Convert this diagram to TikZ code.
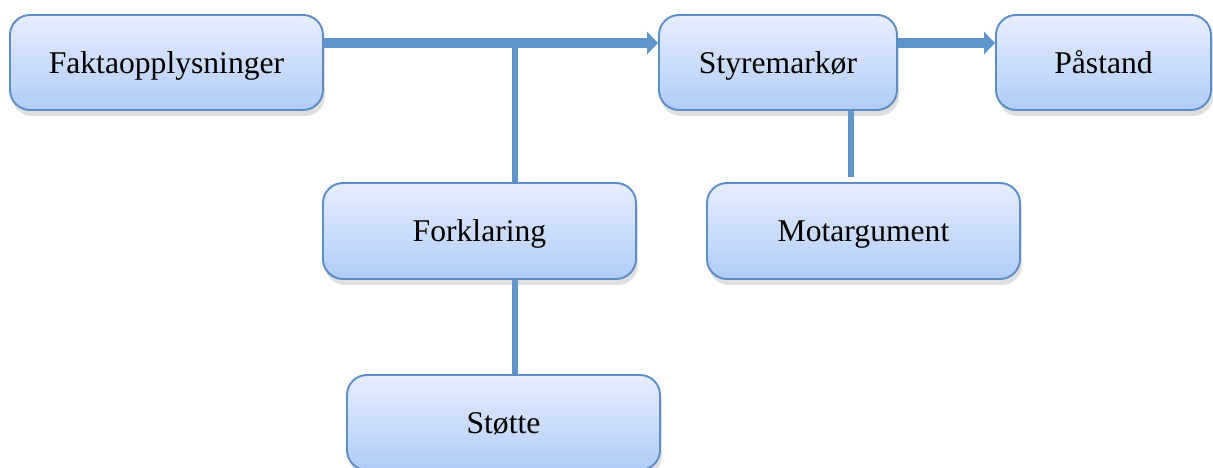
\documentclass[tikz,border=0pt]{standalone}
\usepackage{fontspec}
\setmainfont{Liberation Serif}
\usetikzlibrary{arrows.meta,shadows}
\definecolor{edge}{HTML}{5D8DC4}
\definecolor{wire}{HTML}{5F95CB}
\definecolor{boxtop}{HTML}{E6EEFD}
\definecolor{boxbot}{HTML}{B0CCF8}

\begin{document}
\begin{tikzpicture}[
  line cap=butt,
  blk/.style={draw=edge, line width=1.1pt, rounded corners=0.4cm,
              top color=boxtop, bottom color=boxbot,
              minimum width=6.26cm, minimum height=1.9cm, inner sep=3pt,
              text height=16pt, text depth=4pt,
              font=\fontsize{18}{22}\selectfont,
              drop shadow={shadow xshift=0.4mm, shadow yshift=-1.2mm, opacity=0.25}},
  fl/.style={-{Triangle[length=0.22cm, width=0.44cm]}, wire, line width=0.2cm},
  ln/.style={wire, line width=0.13cm}]

\useasboundingbox (0,0) rectangle (24.26,9.36);

\node[blk] (fakta) at (3.33,8.11) {Faktaopplysninger};
\node[blk, minimum width=4.76cm] (styre) at (15.56,8.11) {Styremarkør};
\node[blk, minimum width=4.3cm] (paast) at (22.07,8.11) {Påstand};
\node[blk, minimum height=1.92cm] (forkl) at (9.59,4.74) {Forklaring};
\node[blk, minimum height=1.92cm] (motarg) at (17.27,4.74) {Motargument};
\node[blk] (stoette) at (10.07,0.91) {Støtte};

\coordinate (junc) at (10.3,8.5);
\coordinate (mlink) at (17.02,0);

\draw[ln] (junc) -- (junc |- forkl.north);
\draw[ln] (junc |- forkl.south) -- (junc |- stoette.north);
\draw[ln, shorten >=0.1cm] (styre.south -| mlink) -- (mlink |- motarg.north);
\draw[fl] (fakta.east |- junc) -- (styre.west |- junc);
\draw[fl] (styre.east |- junc) -- (paast.west |- junc);

\end{tikzpicture}
\end{document}
